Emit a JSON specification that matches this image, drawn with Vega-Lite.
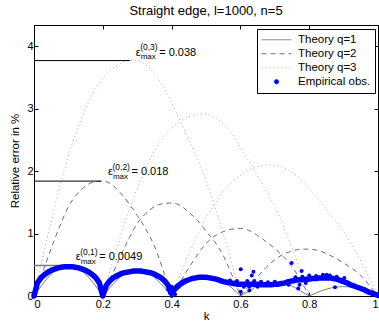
{
  "$schema": "https://vega.github.io/schema/vega-lite/v6.json",
  "autosize": "none",
  "width": 344,
  "height": 271,
  "padding": {"left": 34, "top": 25, "right": 1, "bottom": 27},
  "background": "white",
  "title": {"text": "Straight edge, l=1000, n=5", "font": "Liberation Sans", "fontSize": 13, "fontWeight": "normal", "offset": 7, "anchor": "middle", "color": "black"},
  "config": {
    "view": {"stroke": "black", "strokeWidth": 1},
    "axis": {"domainColor": "black", "tickColor": "black", "labelColor": "black", "titleColor": "black", "labelFont": "Liberation Sans", "titleFont": "Liberation Sans", "labelFontSize": 11, "titleFontSize": 11.5, "titleFontWeight": "normal", "grid": false, "tickSize": -4, "domainWidth": 1, "tickWidth": 1},
    "legend": {"strokeColor": "black", "fillColor": "white", "padding": 4, "labelFont": "Liberation Sans", "labelFontSize": 11.5, "labelColor": "black", "symbolType": "stroke", "symbolSize": 900, "labelOffset": 6, "rowPadding": 0, "clipHeight": 13.5, "orient": "none", "legendX": 223, "legendY": 4}
  },
  "datasets": {
    "q1": [
      {"a":1,"k":0,"v":0},{"a":1,"k":0.025,"v":0.19},{"a":1,"k":0.05,"v":0.35},{"a":1,"k":0.075,"v":0.45},{"a":1,"k":0.1,"v":0.49},{"a":1,"k":0.125,"v":0.45},{"a":1,"k":0.15,"v":0.35},{"a":1,"k":0.175,"v":0.19},{"a":1,"k":0.2,"v":0},
      {"a":2,"k":0.2,"v":0},{"a":2,"k":0.225,"v":0.16},{"a":2,"k":0.25,"v":0.30},{"a":2,"k":0.275,"v":0.39},{"a":2,"k":0.3,"v":0.42},{"a":2,"k":0.325,"v":0.39},{"a":2,"k":0.35,"v":0.30},{"a":2,"k":0.375,"v":0.16},{"a":2,"k":0.4,"v":0},
      {"a":3,"k":0.4,"v":0},{"a":3,"k":0.425,"v":0.13},{"a":3,"k":0.45,"v":0.23},{"a":3,"k":0.475,"v":0.30},{"a":3,"k":0.5,"v":0.33},{"a":3,"k":0.525,"v":0.30},{"a":3,"k":0.55,"v":0.23},{"a":3,"k":0.575,"v":0.13},{"a":3,"k":0.6,"v":0},
      {"a":4,"k":0.6,"v":0},{"a":4,"k":0.625,"v":0.08},{"a":4,"k":0.65,"v":0.16},{"a":4,"k":0.675,"v":0.20},{"a":4,"k":0.7,"v":0.22},{"a":4,"k":0.725,"v":0.20},{"a":4,"k":0.75,"v":0.16},{"a":4,"k":0.775,"v":0.08},{"a":4,"k":0.8,"v":0},
      {"a":5,"k":0.8,"v":0},{"a":5,"k":0.825,"v":0.06},{"a":5,"k":0.85,"v":0.11},{"a":5,"k":0.875,"v":0.14},{"a":5,"k":0.9,"v":0.15},{"a":5,"k":0.925,"v":0.14},{"a":5,"k":0.95,"v":0.11},{"a":5,"k":0.975,"v":0.06},{"a":5,"k":1,"v":0}
    ],
    "q2": [
      {"a":1,"k":0,"v":0},{"a":1,"k":0.025,"v":0.38},{"a":1,"k":0.05,"v":0.76},{"a":1,"k":0.075,"v":1.12},{"a":1,"k":0.1,"v":1.43},{"a":1,"k":0.125,"v":1.63},{"a":1,"k":0.15,"v":1.76},{"a":1,"k":0.175,"v":1.83},{"a":1,"k":0.2,"v":1.84},{"a":1,"k":0.225,"v":1.79},{"a":1,"k":0.25,"v":1.66},{"a":1,"k":0.275,"v":1.49},{"a":1,"k":0.3,"v":1.29},{"a":1,"k":0.325,"v":1.07},{"a":1,"k":0.35,"v":0.80},{"a":1,"k":0.375,"v":0.42},{"a":1,"k":0.4,"v":0},
      {"a":2,"k":0.2,"v":0},{"a":2,"k":0.225,"v":0.31},{"a":2,"k":0.25,"v":0.62},{"a":2,"k":0.275,"v":0.91},{"a":2,"k":0.3,"v":1.16},{"a":2,"k":0.325,"v":1.32},{"a":2,"k":0.35,"v":1.43},{"a":2,"k":0.375,"v":1.48},{"a":2,"k":0.4,"v":1.49},{"a":2,"k":0.425,"v":1.45},{"a":2,"k":0.45,"v":1.34},{"a":2,"k":0.475,"v":1.21},{"a":2,"k":0.5,"v":1.04},{"a":2,"k":0.525,"v":0.87},{"a":2,"k":0.55,"v":0.65},{"a":2,"k":0.575,"v":0.34},{"a":2,"k":0.6,"v":0},
      {"a":3,"k":0.4,"v":0},{"a":3,"k":0.425,"v":0.22},{"a":3,"k":0.45,"v":0.45},{"a":3,"k":0.475,"v":0.66},{"a":3,"k":0.5,"v":0.84},{"a":3,"k":0.525,"v":0.96},{"a":3,"k":0.55,"v":1.03},{"a":3,"k":0.575,"v":1.07},{"a":3,"k":0.6,"v":1.08},{"a":3,"k":0.625,"v":1.05},{"a":3,"k":0.65,"v":0.97},{"a":3,"k":0.675,"v":0.87},{"a":3,"k":0.7,"v":0.76},{"a":3,"k":0.725,"v":0.63},{"a":3,"k":0.75,"v":0.47},{"a":3,"k":0.775,"v":0.25},{"a":3,"k":0.8,"v":0},
      {"a":4,"k":0.6,"v":0},{"a":4,"k":0.625,"v":0.16},{"a":4,"k":0.65,"v":0.31},{"a":4,"k":0.675,"v":0.46},{"a":4,"k":0.7,"v":0.58},{"a":4,"k":0.725,"v":0.67},{"a":4,"k":0.75,"v":0.72},{"a":4,"k":0.775,"v":0.75},{"a":4,"k":0.8,"v":0.75},{"a":4,"k":0.825,"v":0.73},{"a":4,"k":0.85,"v":0.68},{"a":4,"k":0.875,"v":0.61},{"a":4,"k":0.9,"v":0.53},{"a":4,"k":0.925,"v":0.44},{"a":4,"k":0.95,"v":0.33},{"a":4,"k":0.975,"v":0.17},{"a":4,"k":1,"v":0}
    ],
    "q3": [
      {"a":1,"k":0,"v":0},{"a":1,"k":0.025,"v":0.62},{"a":1,"k":0.05,"v":1.2},{"a":1,"k":0.075,"v":1.75},{"a":1,"k":0.1,"v":2.24},{"a":1,"k":0.125,"v":2.65},{"a":1,"k":0.15,"v":3.0},{"a":1,"k":0.175,"v":3.28},{"a":1,"k":0.2,"v":3.48},{"a":1,"k":0.225,"v":3.63},{"a":1,"k":0.25,"v":3.72},{"a":1,"k":0.275,"v":3.77},{"a":1,"k":0.3,"v":3.77},{"a":1,"k":0.325,"v":3.70},{"a":1,"k":0.35,"v":3.56},{"a":1,"k":0.375,"v":3.37},{"a":1,"k":0.4,"v":3.10},{"a":1,"k":0.425,"v":2.80},{"a":1,"k":0.45,"v":2.50},{"a":1,"k":0.475,"v":2.20},{"a":1,"k":0.5,"v":1.85},{"a":1,"k":0.525,"v":1.45},{"a":1,"k":0.55,"v":1.0},{"a":1,"k":0.575,"v":0.52},{"a":1,"k":0.6,"v":0},
      {"a":2,"k":0.2,"v":0},{"a":2,"k":0.225,"v":0.48},{"a":2,"k":0.25,"v":0.93},{"a":2,"k":0.275,"v":1.35},{"a":2,"k":0.3,"v":1.73},{"a":2,"k":0.325,"v":2.05},{"a":2,"k":0.35,"v":2.32},{"a":2,"k":0.375,"v":2.53},{"a":2,"k":0.4,"v":2.69},{"a":2,"k":0.425,"v":2.80},{"a":2,"k":0.45,"v":2.87},{"a":2,"k":0.475,"v":2.91},{"a":2,"k":0.5,"v":2.91},{"a":2,"k":0.525,"v":2.86},{"a":2,"k":0.55,"v":2.75},{"a":2,"k":0.575,"v":2.60},{"a":2,"k":0.6,"v":2.39},{"a":2,"k":0.625,"v":2.16},{"a":2,"k":0.65,"v":1.93},{"a":2,"k":0.675,"v":1.68},{"a":2,"k":0.7,"v":1.43},{"a":2,"k":0.725,"v":1.12},{"a":2,"k":0.75,"v":0.77},{"a":2,"k":0.775,"v":0.40},{"a":2,"k":0.8,"v":0},
      {"a":3,"k":0.4,"v":0},{"a":3,"k":0.425,"v":0.34},{"a":3,"k":0.45,"v":0.67},{"a":3,"k":0.475,"v":0.97},{"a":3,"k":0.5,"v":1.25},{"a":3,"k":0.525,"v":1.47},{"a":3,"k":0.55,"v":1.67},{"a":3,"k":0.575,"v":1.82},{"a":3,"k":0.6,"v":1.93},{"a":3,"k":0.625,"v":2.02},{"a":3,"k":0.65,"v":2.07},{"a":3,"k":0.675,"v":2.10},{"a":3,"k":0.7,"v":2.09},{"a":3,"k":0.725,"v":2.06},{"a":3,"k":0.75,"v":1.98},{"a":3,"k":0.775,"v":1.87},{"a":3,"k":0.8,"v":1.72},{"a":3,"k":0.825,"v":1.56},{"a":3,"k":0.85,"v":1.39},{"a":3,"k":0.875,"v":1.21},{"a":3,"k":0.9,"v":1.03},{"a":3,"k":0.925,"v":0.81},{"a":3,"k":0.95,"v":0.56},{"a":3,"k":0.975,"v":0.29},{"a":3,"k":1,"v":0}
    ],
    "emp": [
      {"k":0,"v":0},{"k":0.01,"v":0.21},{"k":0.02,"v":0.29},{"k":0.03,"v":0.34},{"k":0.04,"v":0.38},{"k":0.05,"v":0.41},{"k":0.06,"v":0.43},{"k":0.07,"v":0.45},{"k":0.08,"v":0.46},{"k":0.09,"v":0.47},{"k":0.1,"v":0.47},{"k":0.11,"v":0.47},{"k":0.12,"v":0.46},{"k":0.13,"v":0.45},{"k":0.14,"v":0.43},{"k":0.15,"v":0.41},{"k":0.16,"v":0.38},{"k":0.17,"v":0.34},{"k":0.18,"v":0.29},{"k":0.19,"v":0.21},{"k":0.2,"v":0},
      {"k":0.21,"v":0.17},{"k":0.22,"v":0.24},{"k":0.23,"v":0.29},{"k":0.24,"v":0.32},{"k":0.25,"v":0.35},{"k":0.26,"v":0.37},{"k":0.27,"v":0.38},{"k":0.28,"v":0.39},{"k":0.29,"v":0.40},{"k":0.3,"v":0.40},{"k":0.31,"v":0.40},{"k":0.32,"v":0.39},{"k":0.33,"v":0.38},{"k":0.34,"v":0.37},{"k":0.35,"v":0.35},{"k":0.36,"v":0.32},{"k":0.37,"v":0.29},{"k":0.38,"v":0.24},{"k":0.39,"v":0.17},{"k":0.4,"v":0.04},
      {"k":0.41,"v":0.12},{"k":0.42,"v":0.17},{"k":0.43,"v":0.21},{"k":0.44,"v":0.24},{"k":0.45,"v":0.26},{"k":0.46,"v":0.28},{"k":0.47,"v":0.29},{"k":0.48,"v":0.30},{"k":0.49,"v":0.30},{"k":0.5,"v":0.30},{"k":0.51,"v":0.29},{"k":0.52,"v":0.28},{"k":0.53,"v":0.27},{"k":0.54,"v":0.25},{"k":0.55,"v":0.23},{"k":0.56,"v":0.22},{"k":0.57,"v":0.21},{"k":0.58,"v":0.20},{"k":0.59,"v":0.19},{"k":0.6,"v":0.19},
      {"k":0.61,"v":0.19},{"k":0.62,"v":0.19},{"k":0.63,"v":0.19},{"k":0.64,"v":0.19},{"k":0.65,"v":0.19},{"k":0.66,"v":0.18},{"k":0.67,"v":0.18},{"k":0.68,"v":0.18},{"k":0.69,"v":0.18},{"k":0.7,"v":0.19},{"k":0.71,"v":0.19},{"k":0.72,"v":0.20},{"k":0.73,"v":0.21},{"k":0.74,"v":0.23},{"k":0.75,"v":0.24},{"k":0.76,"v":0.25},{"k":0.77,"v":0.26},{"k":0.78,"v":0.26},{"k":0.79,"v":0.27},{"k":0.8,"v":0.27},
      {"k":0.81,"v":0.28},{"k":0.82,"v":0.28},{"k":0.83,"v":0.29},{"k":0.84,"v":0.29},{"k":0.85,"v":0.29},{"k":0.86,"v":0.29},{"k":0.87,"v":0.28},{"k":0.88,"v":0.27},{"k":0.89,"v":0.25},{"k":0.9,"v":0.23},{"k":0.91,"v":0.21},{"k":0.92,"v":0.18},{"k":0.93,"v":0.16},{"k":0.94,"v":0.14},{"k":0.95,"v":0.12},{"k":0.96,"v":0.10},{"k":0.97,"v":0.07},{"k":0.98,"v":0.05},{"k":0.99,"v":0.03},{"k":1,"v":0.01}
    ],
    "out": [
      {"k":0.395,"v":0.05},{"k":0.40,"v":0.15},{"k":0.405,"v":0.08},{"k":0.40,"v":0.0},{"k":0.39,"v":0.10},{"k":0.41,"v":0.03},
      {"k":0.601,"v":0.43},{"k":0.638,"v":0.39},{"k":0.633,"v":0.33},{"k":0.601,"v":0.07},{"k":0.626,"v":0.15},{"k":0.626,"v":0.09},{"k":0.62,"v":0.24},{"k":0.59,"v":0.24},{"k":0.61,"v":0.15},{"k":0.64,"v":0.24},{"k":0.57,"v":0.25},{"k":0.65,"v":0.15},{"k":0.66,"v":0.23},{"k":0.68,"v":0.22},{"k":0.70,"v":0.23},
      {"k":0.749,"v":0.53},{"k":0.778,"v":0.40},{"k":0.768,"v":0.12},{"k":0.772,"v":0.18},{"k":0.74,"v":0.18},{"k":0.79,"v":0.21},{"k":0.76,"v":0.30},{"k":0.78,"v":0.31},{"k":0.80,"v":0.33},{"k":0.82,"v":0.32},{"k":0.84,"v":0.34},{"k":0.851,"v":0.34},{"k":0.86,"v":0.33},{"k":0.88,"v":0.31},{"k":0.875,"v":0.14},{"k":0.902,"v":0.29}
    ],
    "hl": [
      {"k":0,"k2":0.279,"v":3.77},{"k":0,"k2":0.195,"v":1.84},{"k":0,"k2":0.1,"v":0.49}
    ],
    "ann": [
      {"k":0.2956,"v":3.896,"sup":"(0,3)","val":"= 0.038"},
      {"k":0.215,"v":1.984,"sup":"(0,2)","val":"= 0.018"},
      {"k":0.1212,"v":0.624,"sup":"(0,1)","val":"= 0.0049"}
    ]
  },
  "resolve": {"axis": {"x": "independent", "y": "independent"}},
  "layer": [
    {
      "data": {"name": "q1"},
      "mark": {"type": "line", "strokeWidth": 1, "interpolate": "monotone"},
      "encoding": {
        "x": {"field": "k", "type": "quantitative", "scale": {"domain": [0, 1], "nice": false}, "axis": {"orient": "bottom", "values": [0, 0.2, 0.4, 0.6, 0.8, 1], "format": "~g", "title": "k", "labelPadding": 6, "titlePadding": 1}},
        "y": {"field": "v", "type": "quantitative", "scale": {"domain": [0, 4.34], "nice": false}, "axis": {"orient": "left", "values": [0, 1, 2, 3, 4], "format": "~g", "title": "Relative error in %", "labelPadding": 5, "titlePadding": 6}},
        "detail": {"field": "a"},
        "color": {"datum": "Theory q=1", "type": "nominal", "scale": {"domain": ["Theory q=1", "Theory q=2", "Theory q=3", "Empirical obs."], "range": ["#7a7a7a", "#6e6e6e", "#a8a8a8", "#0000ff"]},
          "legend": {"title": null, "encode": {"symbols": {"update": {
            "shape": {"signal": "datum.value === 'Empirical obs.' ? 'circle' : 'stroke'"},
            "size": {"signal": "datum.value === 'Empirical obs.' ? 18 : 900"},
            "fill": {"signal": "datum.value === 'Empirical obs.' ? '#0000ff' : 'transparent'"},
            "stroke": {"signal": "datum.value === 'Empirical obs.' ? '#0000ff' : (datum.value === 'Theory q=3' ? '#a8a8a8' : '#6e6e6e')"},
            "strokeDash": {"signal": "datum.value === 'Theory q=2' ? [5,4] : (datum.value === 'Theory q=3' ? [1,3] : [1,0])"},
            "strokeWidth": {"value": 1}
          }}}}}
      }
    },
    {
      "data": {"name": "q2"},
      "mark": {"type": "line", "strokeWidth": 1, "strokeDash": [5, 4], "interpolate": "monotone"},
      "encoding": {
        "x": {"field": "k", "type": "quantitative", "axis": {"orient": "top", "values": [0, 0.2, 0.4, 0.6, 0.8, 1], "labels": false, "title": null}},
        "y": {"field": "v", "type": "quantitative", "axis": {"orient": "right", "values": [0, 1, 2, 3, 4], "labels": false, "title": null}},
        "detail": {"field": "a"},
        "color": {"datum": "Theory q=2", "type": "nominal"}
      }
    },
    {
      "data": {"name": "q3"},
      "mark": {"type": "line", "strokeWidth": 1, "strokeDash": [1, 3], "interpolate": "monotone"},
      "encoding": {
        "x": {"field": "k", "type": "quantitative", "axis": null},
        "y": {"field": "v", "type": "quantitative", "axis": null},
        "detail": {"field": "a"},
        "color": {"datum": "Theory q=3", "type": "nominal"}
      }
    },
    {
      "data": {"name": "hl"},
      "transform": [{"filter": "datum.v > 1"}],
      "mark": {"type": "rule", "color": "black", "strokeWidth": 1},
      "encoding": {
        "x": {"field": "k", "type": "quantitative", "axis": null},
        "x2": {"field": "k2"},
        "y": {"field": "v", "type": "quantitative", "axis": null}
      }
    },
    {
      "data": {"name": "hl"},
      "transform": [{"filter": "datum.v < 1"}],
      "mark": {"type": "rule", "color": "#7a7a7a", "strokeWidth": 1.5},
      "encoding": {
        "x": {"field": "k", "type": "quantitative", "axis": null},
        "x2": {"field": "k2"},
        "y": {"field": "v", "type": "quantitative", "axis": null}
      }
    },
    {
      "data": {"name": "emp"},
      "mark": {"type": "line", "strokeWidth": 5.5, "strokeJoin": "round", "strokeCap": "round"},
      "encoding": {
        "x": {"field": "k", "type": "quantitative", "axis": null},
        "y": {"field": "v", "type": "quantitative", "axis": null},
        "color": {"datum": "Empirical obs.", "type": "nominal"}
      }
    },
    {
      "data": {"name": "out"},
      "mark": {"type": "point", "filled": true, "opacity": 1, "size": 16},
      "encoding": {
        "x": {"field": "k", "type": "quantitative", "axis": null},
        "y": {"field": "v", "type": "quantitative", "axis": null},
        "color": {"datum": "Empirical obs.", "type": "nominal"}
      }
    },
    {
      "data": {"name": "ann"},
      "mark": {"type": "text", "text": "ε", "font": "Liberation Sans", "fontSize": 11, "align": "left", "baseline": "middle", "color": "black"},
      "encoding": {
        "x": {"field": "k", "type": "quantitative", "axis": null},
        "y": {"field": "v", "type": "quantitative", "axis": null}
      }
    },
    {
      "data": {"name": "ann"},
      "mark": {"type": "text", "font": "Liberation Sans", "fontSize": 8.5, "align": "left", "baseline": "middle", "dx": 4.5, "dy": -5.5, "color": "black"},
      "encoding": {
        "x": {"field": "k", "type": "quantitative", "axis": null},
        "y": {"field": "v", "type": "quantitative", "axis": null},
        "text": {"field": "sup"}
      }
    },
    {
      "data": {"name": "ann"},
      "mark": {"type": "text", "text": "max", "font": "Liberation Sans", "fontSize": 8, "align": "left", "baseline": "middle", "dx": 5, "dy": 4.5, "color": "black"},
      "encoding": {
        "x": {"field": "k", "type": "quantitative", "axis": null},
        "y": {"field": "v", "type": "quantitative", "axis": null}
      }
    },
    {
      "data": {"name": "ann"},
      "mark": {"type": "text", "font": "Liberation Sans", "fontSize": 11, "align": "left", "baseline": "middle", "dx": 23.5, "dy": 0, "color": "black"},
      "encoding": {
        "x": {"field": "k", "type": "quantitative", "axis": null},
        "y": {"field": "v", "type": "quantitative", "axis": null},
        "text": {"field": "val"}
      }
    }
  ]
}
